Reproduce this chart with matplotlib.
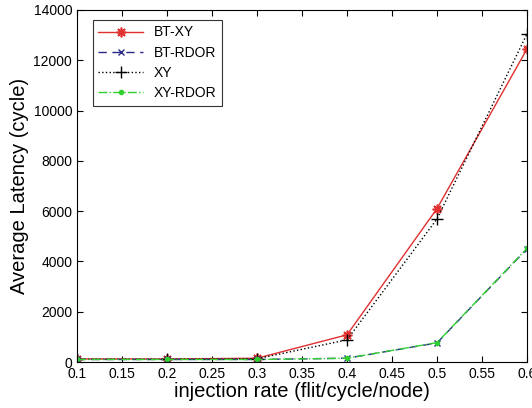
import matplotlib
matplotlib.use("Agg")
import matplotlib.pyplot as plt

x = [0.1, 0.2, 0.3, 0.4, 0.5, 0.6]
bt_xy = [120, 120, 150, 1080, 6100, 12450]
bt_rdor = [100, 100, 100, 150, 760, 4500]
xy = [110, 110, 130, 880, 5690, 13050]
xy_rdor = [100, 100, 100, 150, 770, 4520]

plt.rcParams['font.family'] = ['Liberation Sans', 'DejaVu Sans']
fig = plt.figure(figsize=(5.32, 4.08), dpi=100)
ax = fig.add_axes([77/532, 1-362/408, 450/532, 352/408])

ax.plot(x, bt_xy, color='#e03030', linestyle='-', marker=(8, 2, 0), markersize=7,
        markeredgewidth=1.2, linewidth=1, label='BT-XY')
ax.plot(x, bt_rdor, color='#2a2a8a', linestyle=(0, (6, 4)), marker='x', markersize=5, linewidth=1, label='BT-RDOR')
ax.plot(x, xy, color='black', linestyle=':', marker='+', markersize=8, linewidth=1, label='XY')
ax.plot(x, xy_rdor, color='#30d030', linestyle='-.', marker='.', markersize=6, linewidth=1, label='XY-RDOR')

ax.set_xlim(0.1, 0.6)
ax.set_ylim(0, 14000)
ax.set_xticks([0.1, 0.15, 0.2, 0.25, 0.3, 0.35, 0.4, 0.45, 0.5, 0.55, 0.6])
ax.set_xticklabels(['0.1', '0.15', '0.2', '0.25', '0.3', '0.35', '0.4', '0.45', '0.5', '0.55', '0.6'])
ax.set_yticks(range(0, 14001, 2000))
ax.tick_params(direction='in', top=True, right=True, labelsize=10, length=4)
ax.set_xlabel('injection rate (flit/cycle/node)', fontsize=14.5, labelpad=1)
ax.set_ylabel('Average Latency (cycle)', fontsize=14.5, labelpad=3)
leg = ax.legend(loc='upper left', fontsize=10, fancybox=False, edgecolor='black',
                bbox_to_anchor=(0.035, 0.972), borderaxespad=0, handlelength=3.2,
                labelspacing=0.45)
leg.get_frame().set_linewidth(0.8)

fig.savefig('out.png', dpi=100)
